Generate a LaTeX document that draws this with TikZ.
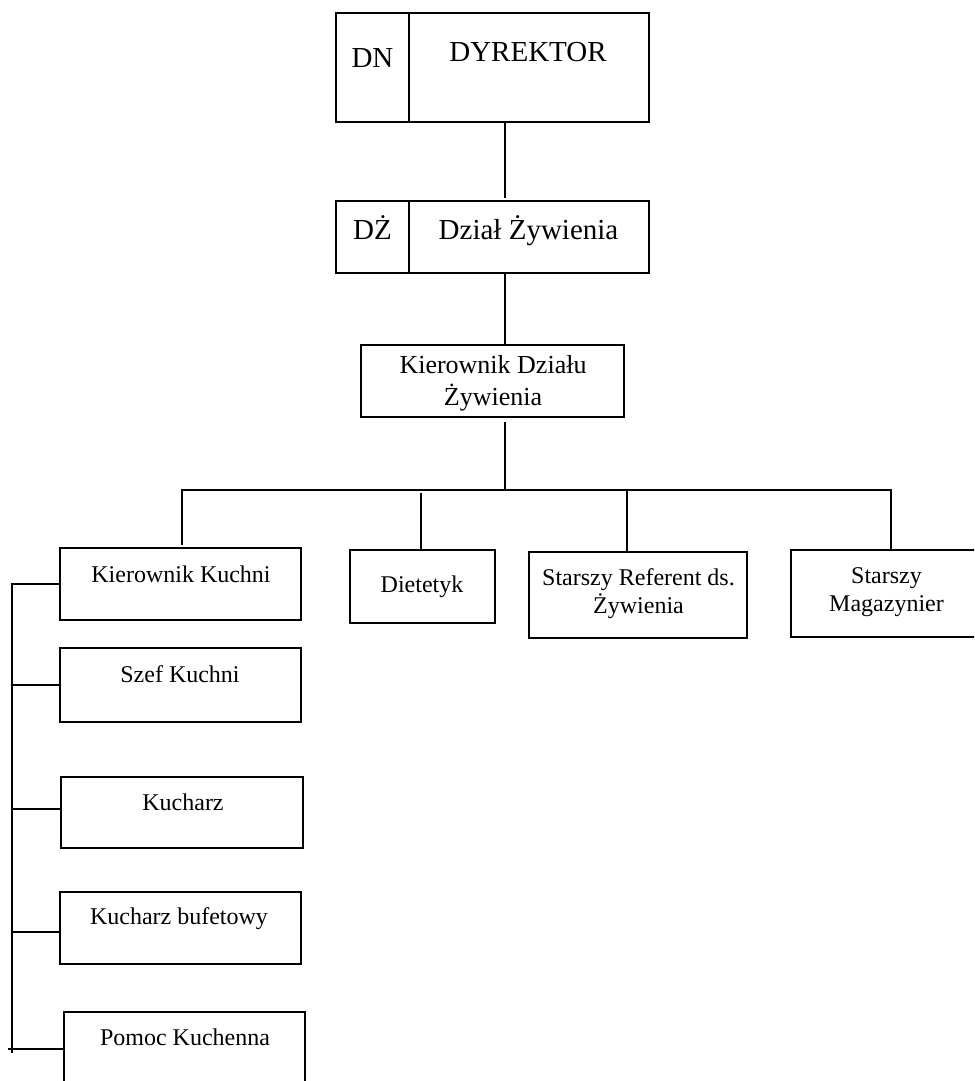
\documentclass[tikz,border=0pt]{standalone}
\usepackage{fontspec}
\setmainfont{Liberation Serif}
\begin{document}
\begin{tikzpicture}[x=1pt,y=-1pt,
  box/.style={draw, line width=1.6pt, rectangle, inner sep=0pt, outer sep=0pt},
  sz/.style n args={2}{minimum width=#1pt, minimum height=#2pt},
  lbl/.style={anchor=base, inner sep=0pt, outer sep=0pt},
  big/.style={font=\fontsize{29}{33}\selectfont},
  mid/.style={font=\fontsize{26}{30}\selectfont},
  small/.style={font=\fontsize{24}{28}\selectfont},
  conn/.style={line width=1.6pt}]
\useasboundingbox (0,0) rectangle (974,1081);
\clip (0,0) rectangle (974,1081);

% top boxes
\node[box, sz={313}{109}] (dyr) at (492.5,67.5) {};
\node[box, sz={313}{72}] (dz) at (492.5,237) {};
\node[box, sz={263}{72}] (kdz) at (492.5,381) {};
\coordinate (dv) at (409,0);
\draw[conn] (dyr.north west -| dv) -- (dyr.south west -| dv);
\draw[conn] (dz.north west -| dv) -- (dz.south west -| dv);

\node[lbl, big] (t-dn) at (372.5,67) {DN};
\node[lbl, big] (t-dyr) at (528,62) {DYREKTOR};
\node[lbl, big] (t-dzs) at (372.5,239) {DŻ};
\node[lbl, big] (t-dz) at (528.5,239) {Dział Żywienia};
\node[lbl, mid] (t-kdz1) at (493,373) {Kierownik Działu};
\node[lbl, mid] (t-kdz2) at (493,405) {Żywienia};

% second level boxes
\node[box, sz={145}{73}] (diet) at (422.5,586.5) {};
\node[box, sz={218}{86}] (ref) at (638,595) {};
\node[box, sz={191}{87}] (mag) at (886.5,593.5) {};
\node[lbl, small] (t-diet) at (422,592) {Dietetyk};
\node[lbl, small] (t-ref1) at (638.5,585) {Starszy Referent ds.};
\node[lbl, small] (t-ref2) at (638.5,613) {Żywienia};
\node[lbl, small] (t-mag1) at (886.5,583) {Starszy};
\node[lbl, small] (t-mag2) at (886.5,611) {Magazynier};

% kitchen column
\node[box, sz={241}{72}] (kk) at (180.5,584) {};
\node[box, sz={241}{74}] (sk) at (180.5,685) {};
\node[box, sz={242}{71}] (k) at (182,812.5) {};
\node[box, sz={241}{72}] (kb) at (180.5,928) {};
\node[box, sz={241}{74}] (pk) at (184.5,1049) {};
\node[lbl, small] (t-kk) at (181,582) {Kierownik Kuchni};
\node[lbl, small] (t-sk) at (180,682) {Szef Kuchni};
\node[lbl, small] (t-k) at (183,810) {Kucharz};
\node[lbl, small] (t-kb) at (179,924) {Kucharz bufetowy};
\node[lbl, small] (t-pk) at (185,1045) {Pomoc Kuchenna};

% main spine
\coordinate (sp) at (505,0);
\coordinate (bus) at (505,490);
\coordinate (busL) at (182,490);
\coordinate (busR) at (891,490);
\coordinate (rx) at (627,490);
\coordinate (dx) at (421,493);
\draw[conn, shorten >=3pt] (dyr.south -| sp) -- (dz.north -| sp);
\draw[conn] (dz.south -| sp) -- (kdz.north -| sp);
\draw[conn, shorten <=5pt] (kdz.south -| sp) -- (bus);
\draw[conn, shorten <=3pt] (kk.north -| busL) -- (busL) -- (busR) -- (mag.north -| busR);
\draw[conn] (diet.north -| dx) -- (dx);
\draw[conn] (rx) -- (ref.north -| rx);

% left spine
\coordinate (lsT) at (12,583);
\coordinate (lsB) at (12,1053);
\coordinate (tick) at (8,1049);
\draw[conn] (kk.west) -- (kk.west -| lsT) -- (lsB);
\draw[conn] (sk.west) -- (sk.west -| lsT);
\draw[conn] (k.west |- 0,809) -- (lsT |- 0,809);
\draw[conn] (kb.west |- 0,932) -- (lsT |- 0,932);
\draw[conn] (tick) -- (pk.west);
\end{tikzpicture}
\end{document}
